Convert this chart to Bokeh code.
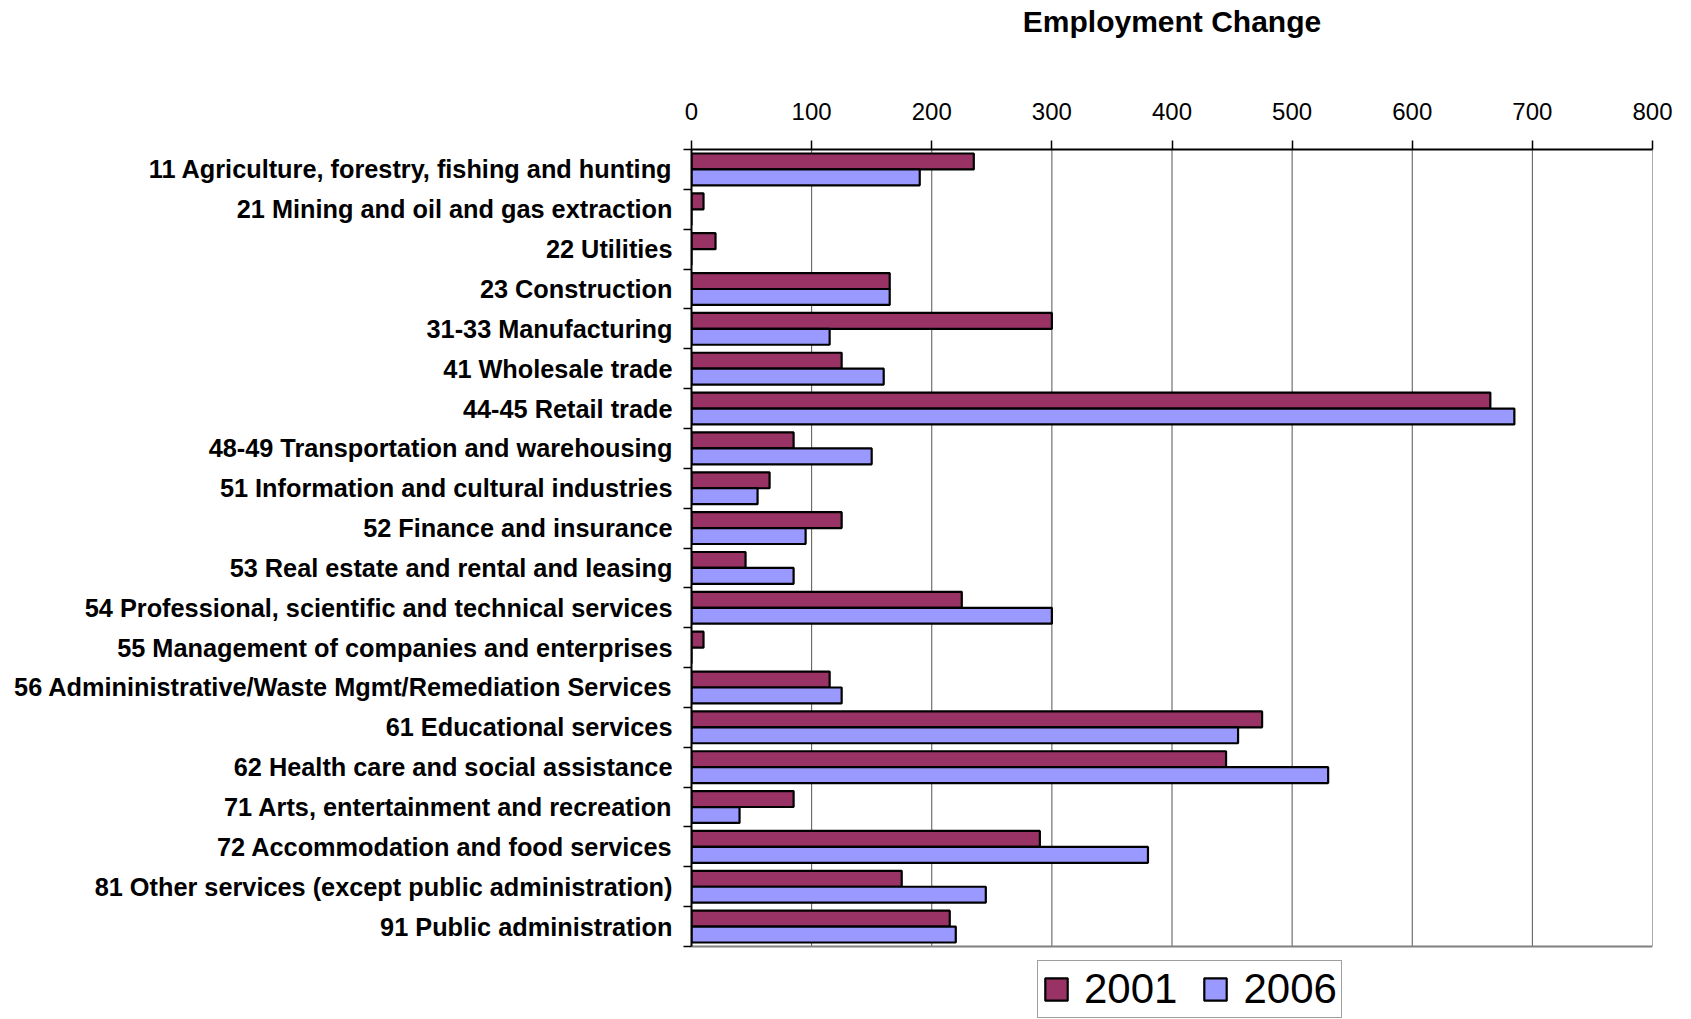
from bokeh.plotting import figure
from bokeh.models import Range1d, FixedTicker, ColumnDataSource, Legend, LegendItem
from bokeh.embed import file_html
from bokeh.resources import INLINE

categories = [
    "11 Agriculture, forestry, fishing and hunting",
    "21 Mining and oil and gas extraction",
    "22 Utilities",
    "23 Construction",
    "31-33 Manufacturing",
    "41 Wholesale trade",
    "44-45 Retail trade",
    "48-49 Transportation and warehousing",
    "51 Information and cultural industries",
    "52 Finance and insurance",
    "53 Real estate and rental and leasing",
    "54 Professional, scientific and technical services",
    "55 Management of companies and enterprises",
    "56 Admininistrative/Waste Mgmt/Remediation Services",
    "61 Educational services",
    "62 Health care and social assistance",
    "71 Arts, entertainment and recreation",
    "72 Accommodation and food services",
    "81 Other services (except public administration)",
    "91 Public administration",
]
values_2001 = [235, 10, 20, 165, 300, 125, 665, 85, 65, 125, 45, 225, 10, 115, 475, 445, 85, 290, 175, 215]
values_2006 = [190, 0, 0, 165, 115, 160, 685, 150, 55, 95, 85, 300, 0, 125, 455, 530, 40, 380, 245, 220]
x_ticks = [0, 100, 200, 300, 400, 500, 600, 700, 800]
series_names = ["2001", "2006"]
title_text = "Employment Change"

n = len(categories)
idx = list(range(n))

# layout (pixels)
W, H = 1691, 1019
LEFT, RIGHT, TOP = 691, 39, 149
ROW_PX = 39.85
extra_rows = (H - TOP - n * ROW_PX) / ROW_PX  # space below the plot area used for the legend

src = ColumnDataSource(dict(
    y2001=[i - 0.2 for i in idx],
    y2006=[i + 0.2 for i in idx],
    v2001=values_2001,
    v2006=values_2006,
))
grid_src = ColumnDataSource(dict(x=x_ticks, y0=[-0.5] * len(x_ticks), y1=[n - 0.5] * len(x_ticks)))

FONT = "Liberation Sans"

p = figure(width=W, height=H, output_backend="svg", toolbar_location=None,
           x_range=Range1d(x_ticks[0], x_ticks[-1]), y_range=Range1d(n - 0.5 + extra_rows, -0.5),
           x_axis_location="above", y_axis_location="left",
           min_border_left=LEFT, min_border_right=RIGHT, min_border_top=TOP, min_border_bottom=0)

# x axis (top) with the chart title as its label
xa = p.xaxis[0]
xa.ticker = FixedTicker(ticks=x_ticks)
xa.major_label_text_font = FONT
xa.major_label_text_font_size = "24px"
xa.major_label_text_color = "black"
xa.major_label_standoff = 21
xa.major_tick_out = 9
xa.major_tick_in = 0
xa.major_tick_line_color = "black"
xa.major_tick_line_width = 1.5
xa.minor_tick_line_color = None
xa.axis_line_color = "black"
xa.axis_line_width = 2
xa.axis_label = title_text
xa.axis_label_text_font = FONT
xa.axis_label_text_font_size = "30px"
xa.axis_label_text_font_style = "bold"
xa.axis_label_text_color = "black"
xa.axis_label_standoff = 62

# y axis (left)
ya = p.yaxis[0]
ya.ticker = FixedTicker(ticks=idx, minor_ticks=[i - 0.5 for i in range(n + 1)])
ya.major_label_overrides = {i: c for i, c in zip(idx, categories)}
ya.bounds = (-0.5, n - 0.5)
ya.major_label_text_font = FONT
ya.major_label_text_font_size = "25.3px"
ya.major_label_text_font_style = "bold"
ya.major_label_text_color = "black"
ya.major_label_standoff = 11
ya.major_tick_line_color = None
ya.major_tick_out = 0
ya.major_tick_in = 0
ya.minor_tick_out = 8
ya.minor_tick_in = 0
ya.minor_tick_line_color = "black"
ya.minor_tick_line_width = 1.5
ya.axis_line_color = "black"
ya.axis_line_width = 2

p.grid.visible = False
p.outline_line_color = None
p.background_fill_color = "white"
p.border_fill_color = "white"

# vertical gridlines, limited to the plot area
p.segment(x0="x", x1="x", y0="y0", y1="y1", source=grid_src, line_color="#555555", line_width=1)
# bottom border of the plot area
p.segment(x0=[x_ticks[0]], x1=[x_ticks[-1]], y0=[n - 0.5], y1=[n - 0.5], line_color="#808080", line_width=2)

r1 = p.hbar(y="y2001", right="v2001", left=0, height=0.4, source=src,
            fill_color="#993366", line_color="black", line_width=2.2)
r2 = p.hbar(y="y2006", right="v2006", left=0, height=0.4, source=src,
            fill_color="#9999FF", line_color="black", line_width=2.2)

legend = Legend(items=[LegendItem(label=series_names[0], renderers=[r1]),
                       LegendItem(label=series_names[1], renderers=[r2])],
                orientation="horizontal", location=(346, 1))
legend.label_text_font = FONT
legend.label_text_font_size = "42px"
legend.label_text_color = "black"
legend.glyph_width = 28
legend.glyph_height = 28
legend.label_standoff = 14
legend.spacing = 24
legend.padding = 4
legend.margin = 0
legend.border_line_color = "#404040"
legend.border_line_width = 1
legend.background_fill_alpha = 1
p.add_layout(legend, "center")

open("out.html", "w").write(file_html(p, INLINE))
